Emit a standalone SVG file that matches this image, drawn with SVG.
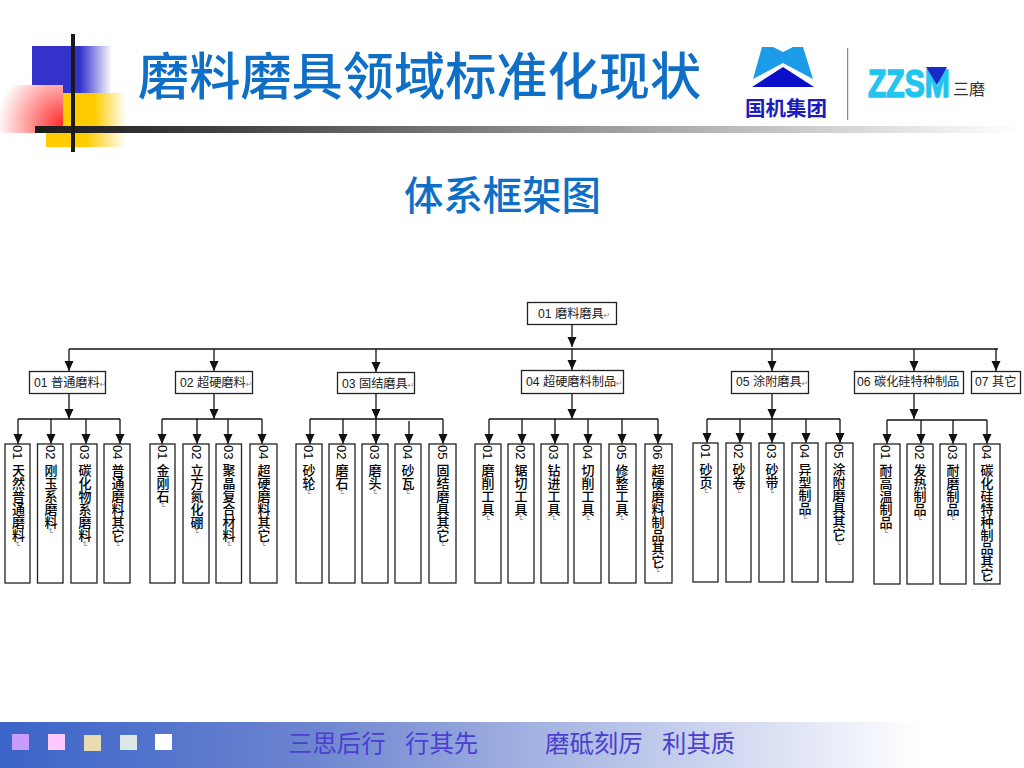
<svg xmlns="http://www.w3.org/2000/svg" width="1024" height="768" viewBox="0 0 1024 768">
<style>
text{font-family:"Liberation Sans","Noto Sans CJK SC",sans-serif}
.box{fill:#fff;stroke:#222;stroke-width:1.3}
.h{font-size:12.2px;fill:#222}
.v{font-size:13px;fill:#000;writing-mode:vertical-rl;font-weight:500}
.rt{fill:#889;font-size:8px;font-weight:400;font-family:"DejaVu Sans",sans-serif}
.ln{fill:none;stroke:#111;stroke-width:1.3}
.dr{fill:none;stroke:#111;stroke-width:1.3;marker-end:url(#ah)}
.tt{fill:#0f6fc6;font-family:"Noto Sans CJK SC",sans-serif;font-weight:500}
.ft{fill:#4a3fd0;font-size:24.4px;font-family:"Liberation Serif","Noto Sans CJK SC",serif}
</style>
<defs>
<marker id="ah" markerUnits="userSpaceOnUse" markerWidth="11" markerHeight="10" refX="10" refY="4.5" orient="auto"><path d="M0 0L10 4.500L0 9Z" fill="#111"/></marker>
<linearGradient id="gb" x1="0" x2="1" y1="0" y2="0"><stop offset="0.6" stop-color="#3333cc"/><stop offset="1" stop-color="#3333cc" stop-opacity="0"/></linearGradient>
<linearGradient id="gy" x1="0" x2="1" y1="0" y2="0"><stop offset="0.5" stop-color="#ffcc00"/><stop offset="1" stop-color="#ffcc00" stop-opacity="0"/></linearGradient>
<radialGradient id="gr" gradientUnits="userSpaceOnUse" cx="63" cy="125" r="66"><stop offset="0" stop-color="#ff2a2a"/><stop offset="0.55" stop-color="#ffa0a0"/><stop offset="1" stop-color="#fff"/></radialGradient>
<linearGradient id="gk" x1="0" x2="1" y1="0" y2="0"><stop offset="0" stop-color="#1a1a1a"/><stop offset="0.2" stop-color="#444"/><stop offset="1" stop-color="#fff"/></linearGradient>
<linearGradient id="gf" x1="0" x2="1" y1="0" y2="0"><stop offset="0" stop-color="#3a64c8"/><stop offset="0.3" stop-color="#6c84d0"/><stop offset="0.9" stop-color="#fff"/></linearGradient>
</defs>
<rect width="1024" height="768" fill="#fff"/>

<g id="decor">
<rect x="32" y="46" width="80" height="47" fill="url(#gb)"/>
<rect x="63" y="93" width="63" height="40" fill="url(#gy)"/>
<rect x="46" y="133" width="80" height="14" fill="url(#gy)"/>
<rect x="0" y="85" width="63" height="48" fill="url(#gr)"/>
<rect x="35" y="126" width="985" height="7" fill="url(#gk)"/>
<rect x="71" y="34" width="4" height="118" fill="#1a1a1a"/>
</g>
<text class="tt" x="138" y="95" font-size="51.200">磨料磨具领域标准化现状</text>
<g id="logo">
<path d="M762 47L773 47L783 52L793 47L803 47L813 79L783 63L753 79Z" fill="#1b9be8"/>
<path d="M783 67L814 87L752 87Z" fill="#0a10c8"/>
<text x="745" y="116" font-size="20.500" font-weight="700" fill="#1a1ac0" style="font-family:'Noto Sans CJK SC',sans-serif">国机集团</text>
<rect x="847" y="48" width="1.2" height="72" fill="#8080b0"/>
<text transform="translate(868 97) scale(0.77 1)" font-size="39" font-weight="700" fill="#22c4f0" stroke="#22c4f0" stroke-width="1.5">ZZSM</text>
<path d="M926 67L947 67L937 85Z" fill="#1a2ac8"/>
<text x="953" y="95" font-size="16" fill="#333" style="font-family:'Noto Sans CJK SC',sans-serif">三磨</text>
</g>
<text class="tt" x="404" y="210" font-size="39.400">体系框架图</text>

<g id="connectors">
<path class="ln" d="M69 349H998"/>
<path class="dr" d="M572 325V347"/>
<path class="dr" d="M69 349V371"/><path class="dr" d="M214 349V371"/><path class="dr" d="M376 349V372"/><path class="dr" d="M572 349V370"/><path class="dr" d="M772 349V371"/><path class="dr" d="M914 349V371"/><path class="dr" d="M996 349V371"/>
<path class="dr" d="M69 393V419"/><path class="ln" d="M18 419H120"/>
<path class="dr" d="M18 419V444"/><path class="dr" d="M51 419V444"/><path class="dr" d="M86 419V444"/><path class="dr" d="M120 419V444"/>
<path class="dr" d="M214 393V419"/><path class="ln" d="M162 419H262"/>
<path class="dr" d="M162 419V444"/><path class="dr" d="M197 419V444"/><path class="dr" d="M228 419V444"/><path class="dr" d="M262 419V444"/>
<path class="dr" d="M376 393V419"/><path class="ln" d="M310 419H443"/>
<path class="dr" d="M310 419V444"/><path class="dr" d="M343 419V444"/><path class="dr" d="M376 419V444"/><path class="dr" d="M409 421V444"/><path class="dr" d="M443 419V444"/>
<path class="dr" d="M572 393V419"/><path class="ln" d="M489 419H658"/>
<path class="dr" d="M489 419V444"/><path class="dr" d="M522 419V444"/><path class="dr" d="M555 419V444"/><path class="dr" d="M588 419V444"/><path class="dr" d="M622 419V444"/><path class="dr" d="M658 419V444"/>
<path class="dr" d="M772 393V419"/><path class="ln" d="M707 419H840"/>
<path class="dr" d="M707 419V443"/><path class="dr" d="M740 419V443"/><path class="dr" d="M772 419V443"/><path class="dr" d="M806 419V443"/><path class="dr" d="M840 419V443"/>
<path class="dr" d="M914 393V419"/><path class="ln" d="M887 420H987"/>
<path class="dr" d="M887 420V444"/><path class="dr" d="M921 420V444"/><path class="dr" d="M953 420V444"/><path class="dr" d="M987 420V444"/>
</g>

<g id="root"><rect class="box" x="527.500" y="302.500" width="89" height="22"/><text class="h" x="538" y="318">01 磨料磨具<tspan class="rt">↵</tspan></text></g>
<g id="n01"><rect class="box" x="29.500" y="371.500" width="76" height="22"/><text class="h" x="34" y="387">01 普通磨料<tspan class="rt">↵</tspan></text></g>
<g id="n02"><rect class="box" x="175.500" y="371.500" width="77" height="22"/><text class="h" x="180" y="387">02 超硬磨料<tspan class="rt">↵</tspan></text></g>
<g id="n03"><rect class="box" x="337.500" y="372.500" width="77" height="21"/><text class="h" x="342" y="388">03 固结磨具<tspan class="rt">↵</tspan></text></g>
<g id="n04"><rect class="box" x="521.500" y="370.500" width="102" height="23"/><text class="h" x="526" y="386">04 超硬磨料制品<tspan class="rt">↵</tspan></text></g>
<g id="n05"><rect class="box" x="731.500" y="371.500" width="77" height="22"/><text class="h" x="736" y="386">05 涂附磨具<tspan class="rt">↵</tspan></text></g>
<g id="n06"><rect class="box" x="854.500" y="371.500" width="109" height="22"/><text class="h" x="857" y="386">06 碳化硅特种制品</text></g>
<g id="n07"><rect class="box" x="971.500" y="371.500" width="49" height="22"/><text class="h" x="975" y="386">07 其它</text></g>

<g id="n0101"><rect class="box" x="5" y="444" width="25" height="139"/><text class="v" x="17.500" y="445">01 天然普通磨料<tspan class="rt">↵</tspan></text></g>
<g id="n0102"><rect class="box" x="37.500" y="444" width="25.500" height="139"/><text class="v" x="50" y="445">02 刚玉系磨料<tspan class="rt">↵</tspan></text></g>
<g id="n0103"><rect class="box" x="71" y="444" width="26" height="139"/><text class="v" x="84" y="445">03 碳化物系磨料<tspan class="rt">↵</tspan></text></g>
<g id="n0104"><rect class="box" x="104" y="444" width="26" height="139"/><text class="v" x="117" y="445">04 普通磨料其它<tspan class="rt">↵</tspan></text></g>
<g id="n0201"><rect class="box" x="150" y="444" width="25" height="139"/><text class="v" x="162" y="445">01 金刚石<tspan class="rt">↵</tspan></text></g>
<g id="n0202"><rect class="box" x="183" y="444" width="26" height="139"/><text class="v" x="196" y="445">02 立方氮化硼<tspan class="rt">↵</tspan></text></g>
<g id="n0203"><rect class="box" x="216" y="444" width="25.500" height="139"/><text class="v" x="228" y="445">03 聚晶复合材料<tspan class="rt">↵</tspan></text></g>
<g id="n0204"><rect class="box" x="250" y="444" width="27" height="139"/><text class="v" x="263" y="445">04 超硬磨料其它<tspan class="rt">↵</tspan></text></g>
<g id="n0301"><rect class="box" x="296" y="444" width="26" height="139"/><text class="v" x="308" y="445">01 砂轮<tspan class="rt">↵</tspan></text></g>
<g id="n0302"><rect class="box" x="329" y="444" width="26" height="139"/><text class="v" x="341" y="445">02 磨石<tspan class="rt">↵</tspan></text></g>
<g id="n0303"><rect class="box" x="362" y="444" width="26" height="139"/><text class="v" x="374" y="445">03 磨头<tspan class="rt">↵</tspan></text></g>
<g id="n0304"><rect class="box" x="395" y="444" width="26" height="139"/><text class="v" x="407" y="445">04 砂瓦<tspan class="rt">↵</tspan></text></g>
<g id="n0305"><rect class="box" x="429" y="444" width="27" height="139"/><text class="v" x="442" y="445">05 固结磨具其它<tspan class="rt">↵</tspan></text></g>
<g id="n0401"><rect class="box" x="475" y="444" width="26" height="139"/><text class="v" x="487" y="445">01 磨削工具<tspan class="rt">↵</tspan></text></g>
<g id="n0402"><rect class="box" x="508" y="444" width="26" height="139"/><text class="v" x="520" y="445">02 锯切工具<tspan class="rt">↵</tspan></text></g>
<g id="n0403"><rect class="box" x="541" y="444" width="27" height="139"/><text class="v" x="553" y="445">03 钻进工具<tspan class="rt">↵</tspan></text></g>
<g id="n0404"><rect class="box" x="574" y="444" width="27" height="139"/><text class="v" x="587" y="445">04 切削工具<tspan class="rt">↵</tspan></text></g>
<g id="n0405"><rect class="box" x="609" y="444" width="27" height="139"/><text class="v" x="621" y="445">05 修整工具<tspan class="rt">↵</tspan></text></g>
<g id="n0406"><rect class="box" x="645" y="444" width="27" height="139"/><text class="v" x="657" y="445">06 超硬磨料制品其它<tspan class="rt">↵</tspan></text></g>
<g id="n0501"><rect class="box" x="693" y="443" width="25" height="139"/><text class="v" x="705" y="444">01 砂页<tspan class="rt">↵</tspan></text></g>
<g id="n0502"><rect class="box" x="726" y="443" width="25" height="139"/><text class="v" x="738" y="444">02 砂卷<tspan class="rt">↵</tspan></text></g>
<g id="n0503"><rect class="box" x="759" y="443" width="25" height="139"/><text class="v" x="771" y="444">03 砂带<tspan class="rt">↵</tspan></text></g>
<g id="n0504"><rect class="box" x="792" y="443" width="26" height="139"/><text class="v" x="804" y="444">04 异型制品<tspan class="rt">↵</tspan></text></g>
<g id="n0505"><rect class="box" x="826" y="443" width="27" height="139"/><text class="v" x="838" y="444">05 涂附磨具其它<tspan class="rt">↵</tspan></text></g>
<g id="n0601"><rect class="box" x="874" y="444" width="26" height="140"/><text class="v" x="885" y="445">01 耐高温制品<tspan class="rt">↵</tspan></text></g>
<g id="n0602"><rect class="box" x="907" y="444" width="26" height="140"/><text class="v" x="919" y="445">02 发热制品<tspan class="rt">↵</tspan></text></g>
<g id="n0603"><rect class="box" x="940" y="444" width="26" height="140"/><text class="v" x="952" y="445">03 耐磨制品<tspan class="rt">↵</tspan></text></g>
<g id="n0604"><rect class="box" x="974" y="444" width="26" height="140"/><text class="v" x="986" y="445">04 碳化硅特种制品其它<tspan class="rt">↵</tspan></text></g>

<g id="footer">
<rect x="0" y="722" width="1024" height="46" fill="url(#gf)"/>
<rect x="12" y="734" width="17" height="16" fill="#c89bff"/>
<rect x="48" y="734" width="17" height="16" fill="#ffc8ff"/>
<rect x="84" y="735" width="17" height="16" fill="#e8dcb0"/>
<rect x="120" y="735" width="17" height="15" fill="#dce8e8"/>
<rect x="155" y="734" width="17" height="16" fill="#fff"/>
<text class="ft" x="288" y="752">三思后行</text><text class="ft" x="405" y="752">行其先</text>
<text class="ft" x="545" y="752">磨砥刻厉</text><text class="ft" x="662" y="752">利其质</text>
</g>
</svg>
